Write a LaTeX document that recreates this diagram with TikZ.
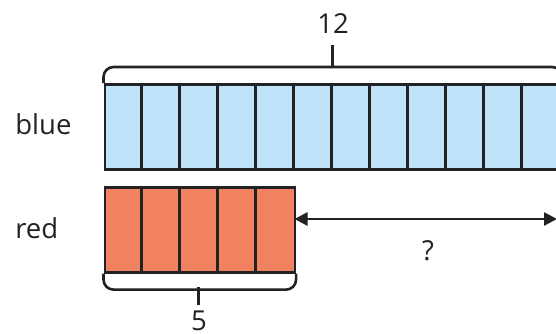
\documentclass[tikz,border=0pt]{standalone}
\usepackage{fontspec}
\setmainfont{Open Sans}
\usetikzlibrary{arrows.meta}
\definecolor{inkc}{RGB}{34,34,34}
\definecolor{bluefill}{RGB}{191,227,248}
\definecolor{redfill}{RGB}{240,130,98}
\begin{document}
\begin{tikzpicture}[x=1pt,y=-1pt,
  line width=2.6pt, line join=miter,
  txt/.style={inner sep=0pt, text=inkc, font=\fontsize{27.5}{32}\selectfont},
  barbox/.style={draw=inkc, rectangle, inner sep=0pt, minimum height=85pt, anchor=north west},
  cellline/.style={draw=inkc},
  brace/.style={draw=inkc, rounded corners=10pt},
  dimarrow/.style={draw=inkc, {Triangle[length=13pt,width=13pt]}-{Triangle[length=13pt,width=13pt]}}
]
\useasboundingbox (0,0) rectangle (556,333);
\clip (0,0) rectangle (556,333);
% bars
\node[barbox, fill=bluefill, minimum width=456pt] (bluebar) at (103.5,83) {};
\node[barbox, fill=redfill, minimum width=190pt] (redbar) at (103.5,186) {};
\foreach \k in {1,...,11}{
  \draw[cellline] ([xshift=\k*38pt]bluebar.north west) -- ([xshift=\k*38pt]bluebar.south west);
}
\foreach \k in {1,...,4}{
  \draw[cellline] ([xshift=\k*38pt]redbar.north west) -- ([xshift=\k*38pt]redbar.south west);
}
% braces
\draw[brace] (bluebar.north west) -- ([yshift=16pt]bluebar.north west) -- ([yshift=16pt]bluebar.north east) -- (bluebar.north east);
\coordinate (ttop) at (332.5,67);
\draw[draw=inkc] (ttop) -- (332.5,45);
\draw[brace] (redbar.south west) -- ([yshift=-16pt]redbar.south west) -- ([yshift=-16pt]redbar.south east) -- (redbar.south east);
\coordinate (btop) at (198.5,287);
\draw[draw=inkc] (btop) -- (198.5,305);
% arrow
\coordinate (arrL) at (294.5,219);
\coordinate (arrR) at (557,219);
\draw[dimarrow] (arrL) -- (arrR);
% labels
\node[txt, anchor=base] (n12) at (333,33) {12};
\node[txt, anchor=base] (n5) at (199,330) {5};
\node[txt, anchor=base] (q) at (428,260) {?};
\node[txt, anchor=base west] (lblue) at (14,134) {blue};
\node[txt, anchor=base west] (lred) at (14,238) {red};
\end{tikzpicture}
\end{document}
